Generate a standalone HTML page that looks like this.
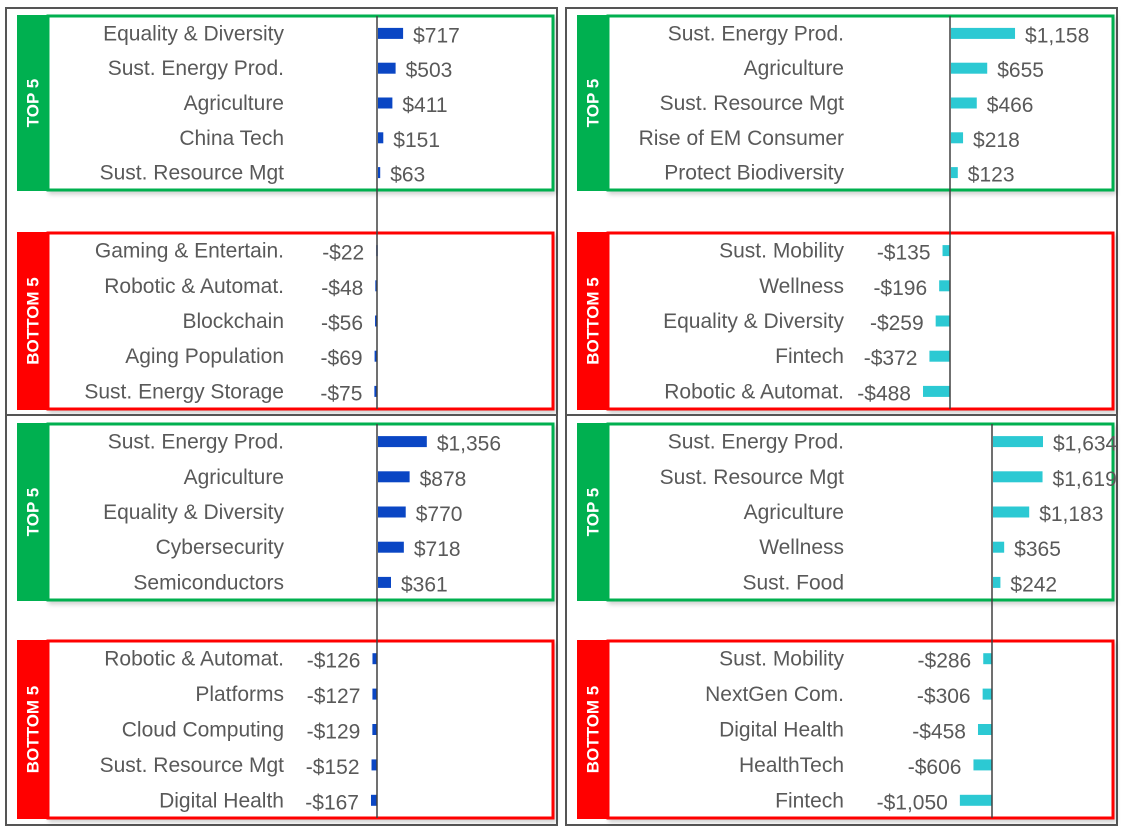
<!DOCTYPE html>
<html><head><meta charset="utf-8"><style>
html,body{margin:0;padding:0;background:#fff;}
svg{display:block;font-family:"Liberation Sans",sans-serif;}
</style></head><body>
<svg id="chart" width="1125" height="837" viewBox="0 0 1125 837" xmlns="http://www.w3.org/2000/svg">
<defs><filter id="sh" x="-5%" y="-5%" width="110%" height="120%"><feDropShadow dx="2" dy="3" stdDeviation="2" flood-color="#000" flood-opacity="0.18"/></filter></defs>
</svg>
<script>
const p1TopCats=["Equality & Diversity","Sust. Energy Prod.","Agriculture","China Tech","Sust. Resource Mgt"];
const p1TopVals=[717,503,411,151,63];
const p1BotCats=["Gaming & Entertain.","Robotic & Automat.","Blockchain","Aging Population","Sust. Energy Storage"];
const p1BotVals=[-22,-48,-56,-69,-75];
const p2TopCats=["Sust. Energy Prod.","Agriculture","Sust. Resource Mgt","Rise of EM Consumer","Protect Biodiversity"];
const p2TopVals=[1158,655,466,218,123];
const p2BotCats=["Sust. Mobility","Wellness","Equality & Diversity","Fintech","Robotic & Automat."];
const p2BotVals=[-135,-196,-259,-372,-488];
const p3TopCats=["Sust. Energy Prod.","Agriculture","Equality & Diversity","Cybersecurity","Semiconductors"];
const p3TopVals=[1356,878,770,718,361];
const p3BotCats=["Robotic & Automat.","Platforms","Cloud Computing","Sust. Resource Mgt","Digital Health"];
const p3BotVals=[-126,-127,-129,-152,-167];
const p4TopCats=["Sust. Energy Prod.","Sust. Resource Mgt","Agriculture","Wellness","Sust. Food"];
const p4TopVals=[1634,1619,1183,365,242];
const p4BotCats=["Sust. Mobility","NextGen Com.","Digital Health","HealthTech","Fintech"];
const p4BotVals=[-286,-306,-458,-606,-1050];

const svg=document.getElementById('chart');
const NS='http://www.w3.org/2000/svg';
function mk(tag,attrs,parent){const e=document.createElementNS(NS,tag);for(const k in attrs)e.setAttribute(k,attrs[k]);(parent||svg).appendChild(e);return e;}
function fmt(v){const s='$'+Math.abs(v).toLocaleString('en-US');return v<0?'-'+s:s;}

const panels=[
 {id:'p1',ox:0,axis:377,scale:0.035,color:'#0a46c4',top:[p1TopCats,p1TopVals],bot:[p1BotCats,p1BotVals],gTop:16,gBot:190,rTop:233,rBot:409},
 {id:'p2',ox:560,axis:950,scale:0.0553,color:'#2cc9d3',top:[p2TopCats,p2TopVals],bot:[p2BotCats,p2BotVals],gTop:16,gBot:190,rTop:233,rBot:409},
 {id:'p3',ox:0,axis:377,scale:0.036,color:'#0a46c4',top:[p3TopCats,p3TopVals],bot:[p3BotCats,p3BotVals],gTop:424,gBot:600,rTop:641,rBot:818},
 {id:'p4',ox:560,axis:992,scale:0.0306,color:'#2cc9d3',top:[p4TopCats,p4TopVals],bot:[p4BotCats,p4BotVals],gTop:424,gBot:600,rTop:641,rBot:818}
];

panels.forEach((p,i)=>{
  const g=mk('g',{});
  
  
  const x0=6+p.ox, x1=557+p.ox;
  const yT=(i<2)?8:415, yB=(i<2)?415:825;
  const outer=mk('rect',{x:x0,y:yT,width:x1-x0,height:yB-yT,fill:'#fff',stroke:'#555',"stroke-width":2},g);
  
  
  const sections=[['top',p.gTop,p.gBot,'#00b050','TOP 5',p.top],['bottom',p.rTop,p.rBot,'#ff0000','BOTTOM 5',p.bot]];
  sections.forEach(s=>{
    const [nm,t,b,col,lab,data]=s;
    const sg=mk('g',{},g);
    
    
    const box=mk('rect',{x:48+p.ox,y:t,width:505,height:b-t,fill:'#fff',stroke:col,"stroke-width":3,filter:'url(#sh)'},sg);
    
    
    const tab=mk('rect',{x:17+p.ox,y:t-1,width:31,height:b-t+2,fill:col},sg);
    
    
    const cx=33+p.ox, cy=(t+b)/2;
    const tt=mk('text',{x:cx,y:cy,fill:'#fff',"font-size":17,"font-weight":"bold","text-anchor":"middle","dominant-baseline":"central",transform:`rotate(-90 ${cx} ${cy})`},sg);
    tt.textContent=lab;
    
    
    const step=(b-t)/5;
    data[0].forEach((c,k)=>{
      const v=data[1][k];
      const yc=t+step*(k+0.5);
      const ct=mk('text',{x:284+p.ox,y:yc+7,fill:'#595959',"font-size":21,"text-anchor":"end"},sg);
      ct.textContent=c;
      
      
      const len=Math.abs(v)*p.scale;
      const bx=v>=0?p.axis+1:p.axis-len;
      const bar=mk('rect',{x:bx,y:yc-5.5,width:Math.max(len,1.5),height:11,fill:p.color},sg);
      
      
      const vt=mk('text',{x:v>=0?p.axis+len+11:p.axis-len-12,y:yc+9,fill:'#595959',"font-size":21,"text-anchor":v>=0?'start':'end'},sg);
      vt.textContent=fmt(v);
      
      
    });
  });
  const ax=mk('line',{x1:p.axis,x2:p.axis,y1:p.gTop,y2:p.rBot,stroke:'#404040',"stroke-width":1.5},g);
  
  
});
</script>
</body></html>
